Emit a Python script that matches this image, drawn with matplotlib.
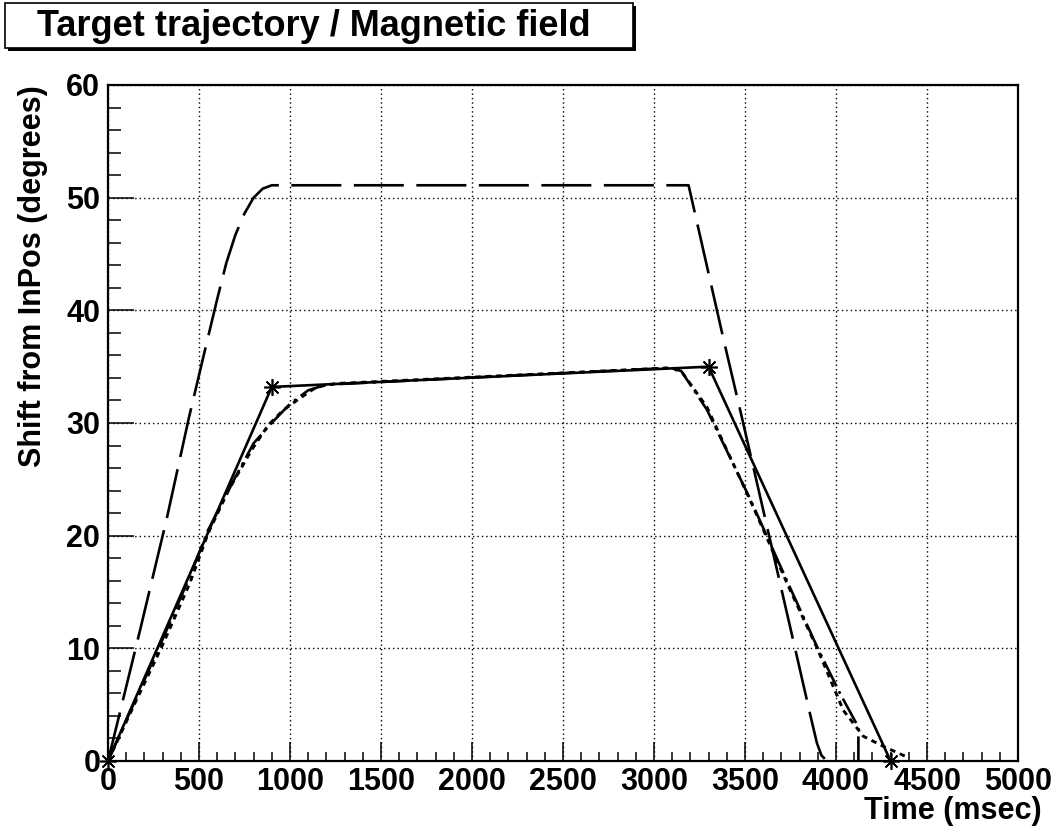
import matplotlib
matplotlib.use("Agg")
import matplotlib.pyplot as plt
from matplotlib.patches import Rectangle
from matplotlib.ticker import MultipleLocator

# ---------------- data ----------------
title_text = "Target trajectory / Magnetic field"
x_label = "Time (msec)"
y_label = "Shift from InPos (degrees)"

x_ticks = [0, 500, 1000, 1500, 2000, 2500, 3000, 3500, 4000, 4500, 5000]
y_ticks = [0, 10, 20, 30, 40, 50, 60]

# programmed target trajectory (solid, star markers)
traj_t = [0, 900, 3300, 4300]
traj_v = [0, 33.2, 35.0, 0]

# magnetic field (long dashes)
mag_t = [0, 176, 324, 445, 542, 600, 650, 700, 750, 800, 850, 900, 3190, 3381,
         3490, 3775, 3860, 3895, 3920, 3950]
mag_v = [0, 11.6, 21.6, 30.5, 37.1, 41.0, 44.2, 46.7, 48.6, 50.0, 50.8, 51.1, 51.1,
         37.5, 30.0, 10.0, 4.0, 1.6, 0.5, 0]

# measured trajectory 1 (dotted)
dot_t = [0, 150, 300, 450, 550, 661, 789, 880, 960, 1037, 1100, 1147, 1250, 3100,
         3159, 3291, 3527, 3747, 3894, 4040, 4150, 4260, 4370, 4400]
dot_v = [0, 5.2, 10.3, 15.8, 20.2, 24.0, 27.6, 29.8, 31.1, 32.0, 32.7, 33.2, 33.5,
         34.9, 34.4, 31.4, 23.2, 15.2, 10.1, 4.5, 2.2, 1.3, 0.5, 0.3]

# measured trajectory 2 (dash-dot)
dd_t = [0, 150, 300, 450, 550, 700, 800, 905, 1000, 1100, 1200, 3100, 3150, 3290,
        3530, 3750, 3900, 4022, 4123, 4123]
dd_v = [0, 5.4, 10.8, 16.4, 20.5, 25.2, 28.2, 30.1, 31.7, 32.9, 33.4, 34.9, 34.6,
        31.2, 23.2, 15.3, 10.0, 6.0, 3.0, 0]

# ---------------- style ----------------
plt.rcParams['font.family'] = ['Liberation Sans', 'DejaVu Sans']
plt.rcParams['font.weight'] = 'bold'
plt.rcParams['lines.scale_dashes'] = False

W, H = 1051, 834
fig = plt.figure(figsize=(W / 100, H / 100), dpi=100)
fig.patch.set_facecolor('white')

L, R, T, B = 108, 1018, 85, 761
ax = fig.add_axes([L / W, (H - B) / H, (R - L) / W, (B - T) / H])
ax.set_xlim(0, 5000)
ax.set_ylim(0, 60)

ax.set_xticks(x_ticks)
ax.set_yticks(y_ticks)
ax.set_xticklabels([str(v) for v in x_ticks])
ax.set_yticklabels([str(v) for v in y_ticks])
ax.xaxis.set_minor_locator(MultipleLocator(100))
ax.yaxis.set_minor_locator(MultipleLocator(2))

ax.grid(which='major', color='black', linestyle=(0, (1.0, 2.2)), linewidth=1.0)
ax.set_axisbelow(True)

for s in ax.spines.values():
    s.set_linewidth(1.6)
    s.set_color('black')

ax.tick_params(which='both', direction='in', top=False, right=False,
               width=1.1, color='black', labelsize=22)
ax.tick_params(axis='x', which='major', length=13.5, pad=4.5)
ax.tick_params(axis='x', which='minor', length=6.5)
ax.tick_params(axis='y', which='major', length=18.5, pad=5.5)
ax.tick_params(axis='y', which='minor', length=9.3)
for lab in ax.get_xticklabels() + ax.get_yticklabels():
    lab.set_fontweight('bold')

lw = 1.9
ax.plot(mag_t, mag_v, color='black', lw=lw, dashes=(36, 9), solid_capstyle='butt',
        dash_capstyle='butt', zorder=3)
ax.plot(dot_t, dot_v, color='black', lw=lw + 0.2, dashes=(4, 3.5), dash_capstyle='butt',
        zorder=3)
ax.plot(dd_t, dd_v, color='black', lw=lw, dashes=(20, 4, 2, 4), dash_capstyle='butt',
        zorder=3)
ax.plot(traj_t, traj_v, color='black', lw=lw, zorder=4,
        marker=(8, 2, 0), markersize=12, markeredgewidth=1.2,
        markeredgecolor='black', markerfacecolor='black', clip_on=False)

# axis titles
fig.text(33 / W, 1 - 85 / H, y_label, rotation=90, ha='center', va='top',
         fontsize=22, fontweight='bold')
fig.text(1042 / W, 1 - 811 / H, x_label, ha='right', va='center',
         fontsize=22, fontweight='bold')

# title box with shadow
bx0, by0, bx1, by1 = 5, 3, 633, 48
sh = 3
fig.patches.append(Rectangle(((bx0 + sh) / W, 1 - (by1 + sh) / H),
                             (bx1 - bx0) / W, (by1 - by0) / H,
                             transform=fig.transFigure, facecolor='black',
                             edgecolor='black', lw=0, zorder=1))
fig.patches.append(Rectangle((bx0 / W, 1 - by1 / H),
                             (bx1 - bx0) / W, (by1 - by0) / H,
                             transform=fig.transFigure, facecolor='white',
                             edgecolor='black', lw=1.2, zorder=2))
fig.text(37 / W, 1 - 26 / H, title_text, ha='left', va='center',
         fontsize=26, fontweight='bold', zorder=3)

fig.savefig('out.png', dpi=100)
